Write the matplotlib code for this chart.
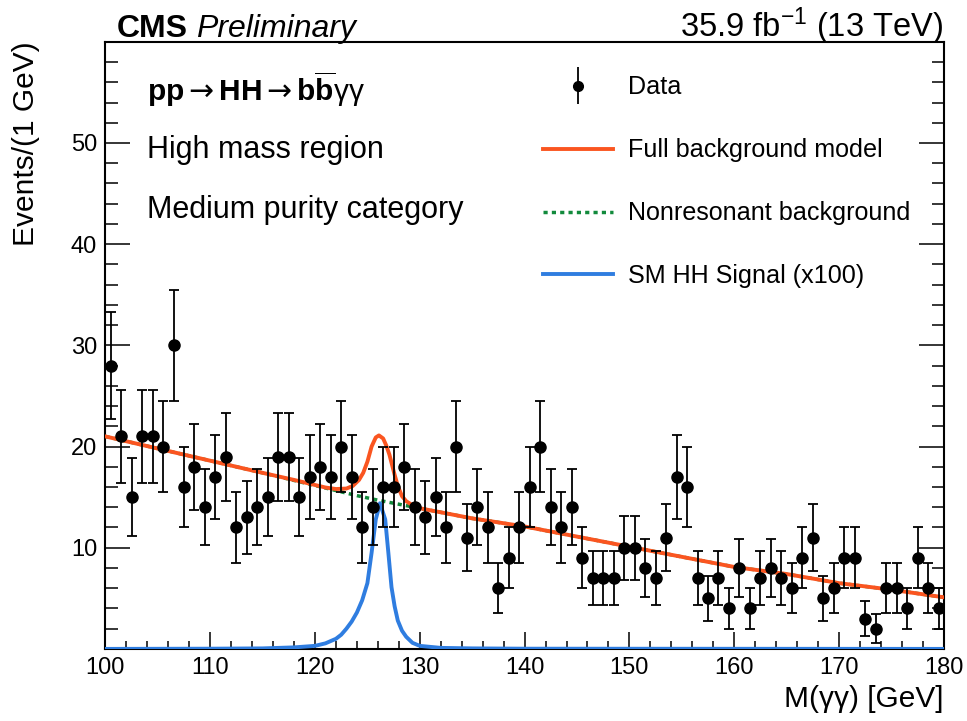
import numpy as np
import matplotlib
matplotlib.use('Agg')
import matplotlib.pyplot as plt
from matplotlib.ticker import MultipleLocator
from matplotlib.container import ErrorbarContainer
from matplotlib.legend_handler import HandlerErrorbar

plt.rcParams['font.family'] = ['Liberation Sans', 'DejaVu Sans']
plt.rcParams['mathtext.fontset'] = 'custom'
plt.rcParams['mathtext.rm'] = 'Liberation Sans'
plt.rcParams['mathtext.bf'] = 'Liberation Sans:bold'
plt.rcParams['mathtext.it'] = 'Liberation Sans:italic'
plt.rcParams['mathtext.sf'] = 'DejaVu Sans'

# data: events per 1 GeV bin, bins 100-180
mass = np.arange(100.5, 180, 1.0)
counts = np.array([
    28, 21, 15, 21, 21, 20, 30, 16, 18, 14,
    17, 19, 12, 13, 14, 15, 19, 19, 15, 17,
    18, 17, 20, 17, 12, 14, 16, 16, 18, 14,
    13, 15, 12, 20, 11, 14, 12, 6, 9, 12,
    16, 20, 14, 12, 14, 9, 7, 7, 7, 10,
    10, 8, 7, 11, 17, 16, 7, 5, 7, 4,
    8, 4, 7, 8, 7, 6, 9, 11, 5, 6,
    9, 9, 3, 2, 6, 6, 4, 9, 6, 4])

# nonresonant background
bkg_x = [100, 105, 110, 115, 120, 122, 124, 126, 128, 130, 132, 135,
         140, 145, 150, 155, 160, 165, 170, 175, 180]
bkg_y = [21.0, 19.8, 18.6, 17.4, 16.15, 15.65, 15.15, 14.7, 14.3, 13.9, 13.5, 12.9,
         12.1, 11.1, 10.1, 9.1, 8.1, 7.4, 6.5, 5.85, 5.1]

# full background model (nonresonant + single H)
full_x = [100, 105, 110, 115, 118, 120, 121, 122, 123, 123.6, 124.2, 124.6,
          125.0, 125.4, 125.8, 126.1, 126.5, 126.8, 127.1, 127.3, 127.6, 127.9,
          128.3, 128.7, 129.3, 130, 132, 135, 140, 145, 150, 155, 160, 165,
          170, 175, 180]
full_y = [21.0, 19.8, 18.6, 17.4, 16.7, 16.2, 15.95, 15.8, 15.85, 16.1, 16.7, 17.4,
          18.5, 20.0, 20.9, 21.1, 20.8, 20.1, 19.2, 18.4, 17.2, 16.1,
          15.1, 14.6, 14.2, 13.9, 13.5, 12.9, 12.1, 11.1, 10.1, 9.1, 8.1, 7.4,
          6.5, 5.85, 5.1]

# SM HH signal x100
sig_x = [100, 110, 115, 118, 120, 121, 122, 122.5, 123, 123.5, 124, 124.5,
         125.0, 125.4, 125.8, 126.2, 126.7, 127.0, 127.3, 127.6, 127.9, 128.3,
         128.7, 129.3, 130, 132, 135, 140, 180]
sig_y = [0.0, 0.02, 0.05, 0.15, 0.3, 0.55, 1.0, 1.4, 2.0, 2.7, 3.6, 4.8,
         6.5, 9.5, 12.8, 14.4, 12.8, 9.5, 6.1, 4.2, 2.8, 1.8,
         1.2, 0.6, 0.3, 0.1, 0.05, 0.02, 0.0]

c_full = '#fa5520'
c_bkg = '#128a3c'
c_sig = '#2f7de0'

fig = plt.figure(figsize=(9.67, 7.21), dpi=100)
ax = fig.add_axes([0.109, 0.100, 0.867, 0.842])

ax.plot(bkg_x, bkg_y, color=c_bkg, lw=2.5, ls=(0, (1.2, 1.2)), zorder=2)
ax.plot(full_x, full_y, color=c_full, lw=2.8, zorder=3)
ax.plot(sig_x, sig_y, color=c_sig, lw=2.8, zorder=3)
ax.errorbar(mass, counts, yerr=np.sqrt(counts), fmt='o', color='black',
            markersize=8, elinewidth=1.3, capsize=3.5, capthick=1.3, zorder=4)

# legend proxies
h_data = ax.errorbar([np.nan], [np.nan], yerr=[1], fmt='o', color='black',
                     markersize=7, elinewidth=1.3, capsize=0)
h_full, = ax.plot([], [], color=c_full, lw=2.8)
h_bkg, = ax.plot([], [], color=c_bkg, lw=2.5, ls=(0, (1.2, 1.2)))
h_sig, = ax.plot([], [], color=c_sig, lw=2.8)
ax.legend([h_data, h_full, h_bkg, h_sig],
          ['Data', 'Full background model', 'Nonresonant background',
           'SM HH Signal (x100)'],
          loc='upper left', bbox_to_anchor=(0.4955, 0.982), frameon=False,
          fontsize=18.1, handlelength=2.75, handletextpad=0.6,
          labelspacing=1.55,
          handler_map={ErrorbarContainer: HandlerErrorbar(yerr_size=0.75)})

ax.set_xlim(100, 180)
ax.set_ylim(0, 60)
ax.xaxis.set_major_locator(MultipleLocator(10))
ax.xaxis.set_minor_locator(MultipleLocator(2))
ax.yaxis.set_major_locator(MultipleLocator(10))
ax.yaxis.set_minor_locator(MultipleLocator(2))
ax.set_yticks([10, 20, 30, 40, 50])
for s in ax.spines.values():
    s.set_linewidth(1.5)
ax.tick_params(axis='both', which='both', direction='in', right=True, top=False,
               width=1.1, labelsize=17)
ax.tick_params(axis='x', which='major', length=12, pad=6)
ax.tick_params(axis='x', which='minor', length=6)
ax.tick_params(axis='y', which='major', length=18, pad=6)
ax.tick_params(axis='y', which='minor', length=9)

ax.set_xlabel('M(γγ) [GeV]', loc='right', fontsize=21.5, labelpad=4)
ax.set_ylabel('Events/(1 GeV)', loc='top', fontsize=21.5)
ax.yaxis.set_label_coords(-0.078, 1.0)

ax.text(104.0, 55.3,
        r'$\mathbf{pp}\mathsf{\rightarrow}\mathbf{HH}\mathsf{\rightarrow}'
        r'\mathbf{b}\overline{\mathbf{b}}\mathrm{\gamma\gamma}$',
        fontsize=21.5, va='center', ha='left')
ax.text(104.0, 49.3, 'High mass region', fontsize=22, va='center', ha='left')
ax.text(104.0, 43.4, 'Medium purity category', fontsize=22, va='center', ha='left')

fig.text(0.121, 0.9487, 'CMS', fontsize=23, fontweight='bold', va='baseline')
fig.text(0.2027, 0.9487, 'Preliminary', fontsize=23, style='italic', va='baseline')
fig.text(0.975, 0.9487, r'35.9 fb$^{\mathregular{-1}}$ (13 TeV)', fontsize=23.5,
         ha='right', va='baseline')

fig.savefig('out.png', dpi=100)
